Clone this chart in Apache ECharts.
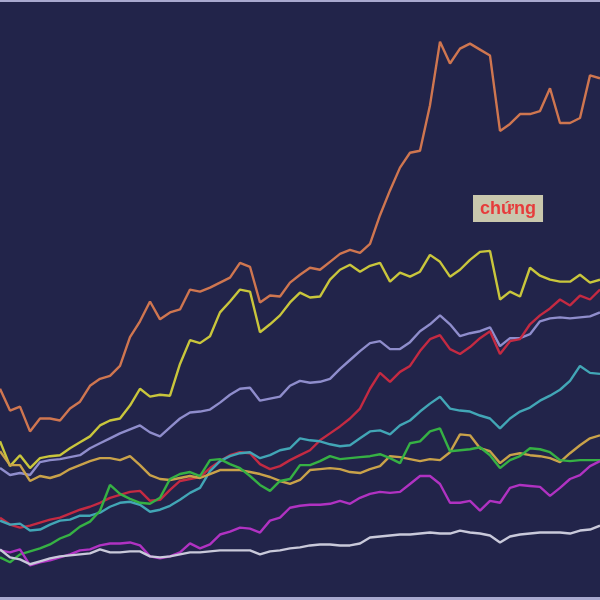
<!DOCTYPE html>
<html>
<head>
<meta charset="utf-8">
<script src="https://cdn.jsdelivr.net/npm/echarts@6/dist/echarts.min.js"></script>
<style>
html,body{margin:0;padding:0;background:#22244a;}
#chart{width:600px;height:600px;}
</style>
</head>
<body>
<div id="chart"></div>
<script>
// 61 evenly spaced time steps
const steps = Array.from({length: 61}, (_, i) => String(i));

const seriesOrange = [210,188,192,167,180,180,178,190,197,213,220,223,233,262,278,298,280,287,290,310,308,312,317,322,337,333,297,304,303,317,325,332,330,338,346,350,347,356,385,410,433,448,450,496,560,538,553,558,552,546,470,477,487,487,490,513,478,478,483,526,523];
const seriesYellow = [157,132,143,130,140,142,143,150,156,162,173,178,180,193,210,202,204,203,235,259,256,263,287,298,310,308,267,275,284,297,307,302,303,320,330,335,328,334,337,318,327,323,328,345,338,323,330,340,348,349,300,308,303,332,324,320,318,318,325,317,320];
const seriesLavender = [130,123,125,123,136,138,139,141,143,150,155,160,165,169,173,166,162,171,180,186,187,189,196,204,210,211,198,200,202,213,218,216,217,220,230,239,248,256,258,250,250,257,268,275,284,275,263,266,268,272,253,261,261,265,278,281,282,281,282,283,287];
const seriesRed = [80,73,70,72,75,78,80,84,88,91,95,100,103,106,107,97,98,108,117,119,121,130,137,143,146,145,134,129,132,138,143,148,158,165,172,180,190,210,226,217,227,233,248,260,264,250,245,252,261,268,245,258,260,275,284,291,300,294,304,300,310];
const seriesTeal = [77,73,74,67,68,73,77,78,82,82,85,91,95,96,93,86,88,92,98,105,110,127,137,142,145,146,140,143,148,150,160,158,157,154,152,153,160,167,168,164,173,178,187,195,202,190,188,187,183,180,170,180,187,191,198,203,209,218,233,226,225];
const seriesGold = [147,133,133,117,122,120,123,129,133,137,140,140,138,142,133,123,119,118,120,122,120,124,128,128,128,126,124,121,117,114,118,128,129,130,129,126,125,129,132,142,141,139,137,139,138,146,164,163,150,147,135,143,145,143,142,140,136,145,153,160,163];
const seriesGreen = [40,35,43,46,49,53,59,63,71,76,87,113,104,99,95,94,100,119,124,126,122,138,139,134,130,122,113,107,117,119,133,133,137,142,139,140,141,142,144,140,135,155,157,167,170,147,148,149,151,143,130,138,142,150,149,146,138,137,138,138,138];
const seriesMagenta = [47,45,48,32,35,37,40,43,47,48,52,54,54,55,52,41,39,41,45,54,49,53,63,66,70,69,65,77,80,90,92,93,93,94,97,94,100,104,106,105,106,114,122,122,114,95,95,97,87,97,95,110,113,112,111,102,110,119,123,132,137];
const seriesGray = [48,40,38,33,36,39,41,42,43,44,48,45,45,46,46,41,40,41,43,45,45,46,47,47,47,47,43,46,47,49,50,52,53,53,52,52,54,60,61,62,63,63,64,65,64,64,67,65,64,62,55,61,63,64,65,65,65,64,67,68,72];

const labelText = 'chứng';

const defs = [
  {name: 'A', data: seriesOrange,   color: '#cf7650'},
  {name: 'B', data: seriesYellow,   color: '#c9c63c'},
  {name: 'C', data: seriesLavender, color: '#8f8dcc'},
  {name: 'D', data: seriesRed,      color: '#c42a42'},
  {name: 'E', data: seriesTeal,     color: '#42a6b6'},
  {name: 'F', data: seriesGold,     color: '#c9a24a'},
  {name: 'G', data: seriesGreen,    color: '#36b144'},
  {name: 'H', data: seriesMagenta,  color: '#b032c2'},
  {name: 'I', data: seriesGray,     color: '#c9c9da'}
];

const chart = echarts.init(document.getElementById('chart'), null, {renderer: 'canvas'});
chart.setOption({
  backgroundColor: '#a9a9cf',
  animation: false,
  grid: {left: 0, right: 0, top: 2, bottom: 3, show: true, backgroundColor: '#22244a', borderWidth: 0},
  xAxis: {type: 'category', data: steps, boundaryGap: false, show: false},
  yAxis: {type: 'value', min: 0, max: 600, show: false},
  series: defs.map(d => ({
    name: d.name, type: 'line', data: d.data, showSymbol: false, symbol: 'none',
    lineStyle: {color: d.color, width: 2.4}, itemStyle: {color: d.color}
  })),
  graphic: [{
    type: 'text', left: 473, top: 195, z: 100,
    style: {
      text: labelText, fill: '#e63b3b', font: 'bold 18px "Liberation Sans", sans-serif',
      backgroundColor: '#c9c7ad', padding: [5, 7, 4, 7]
    }
  }]
});
</script>
</body>
</html>
